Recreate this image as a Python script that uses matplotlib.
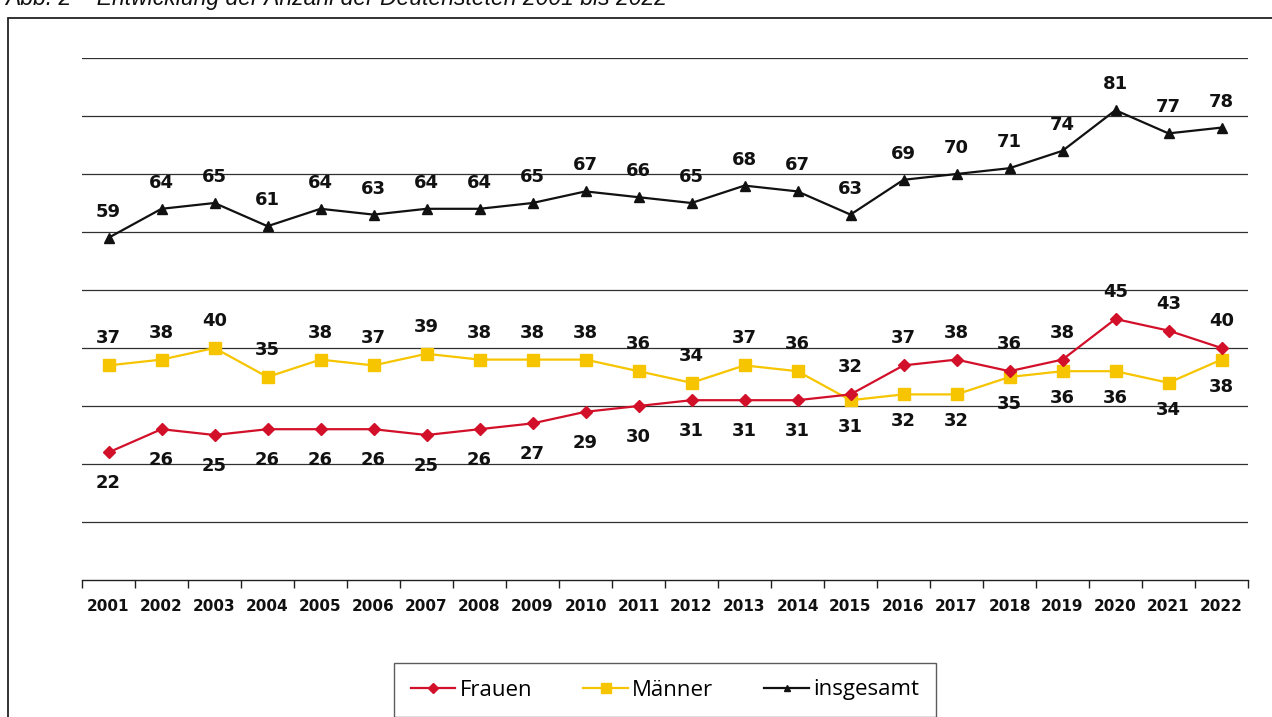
import matplotlib
matplotlib.use("Agg")
import matplotlib.pyplot as plt
from matplotlib.patches import Rectangle
from matplotlib.lines import Line2D

years = list(range(2001, 2023))
frauen = [22, 26, 25, 26, 26, 26, 25, 26, 27, 29, 30, 31, 31, 31, 32, 37, 38, 36, 38, 45, 43, 40]
maenner = [37, 38, 40, 35, 38, 37, 39, 38, 38, 38, 36, 34, 37, 36, 31, 32, 32, 35, 36, 36, 34, 38]
insgesamt = [59, 64, 65, 61, 64, 63, 64, 64, 65, 67, 66, 65, 68, 67, 63, 69, 70, 71, 74, 81, 77, 78]
title = "Abb. 2 – Entwicklung der Anzahl der Deutensteten 2001 bis 2022"

W, H = 1272, 717
fig = plt.figure(figsize=(W / 100, H / 100), dpi=100)
ax = fig.add_axes([82 / W, 1 - 580 / H, (1248 - 82) / W, (580 - 58) / H])

red = "#D2102A"
yellow = "#F6C500"
black = "#111111"

ax.plot(years, frauen, color=red, lw=1.6, marker="D", ms=6.5, label="Frauen", zorder=4)
ax.plot(years, maenner, color=yellow, lw=1.6, marker="s", ms=8.5, label="Männer", zorder=3)
ax.plot(years, insgesamt, color=black, lw=1.6, marker="^", ms=6.5, label="insgesamt", zorder=4)

ax.set_xlim(2000.5, 2022.5)
ax.set_ylim(0, 90)
for g in range(10, 91, 10):
    ax.axhline(g, color="#303030", lw=0.9, zorder=1)

for s in ["left", "right", "top"]:
    ax.spines[s].set_visible(False)
ax.spines["bottom"].set_color("#202020")
ax.spines["bottom"].set_linewidth(1.0)
ax.set_yticks([])
ax.set_xticks(years)
ax.set_xticklabels([str(y) for y in years], fontsize=11, fontweight="bold", color="#111111")
ax.tick_params(axis="x", which="major", length=0, pad=14)
ax.set_xticks([y + 0.5 for y in range(2000, 2023)], minor=True)
ax.tick_params(axis="x", which="minor", length=6, width=1, color="#202020", direction="out")

lab_kw = dict(textcoords="offset pixels", ha="center", va="center",
              fontsize=13, fontweight="bold", color="#111111", zorder=6)
for x, v in zip(years, insgesamt):
    ax.annotate(str(v), (x, v), xytext=(0, 26), **lab_kw)
for x, f, m in zip(years, frauen, maenner):
    if f > m:
        ax.annotate(str(f), (x, f), xytext=(0, 27), **lab_kw)
        ax.annotate(str(m), (x, m), xytext=(0, -27), **lab_kw)
    else:
        ax.annotate(str(m), (x, m), xytext=(0, 27), **lab_kw)
        ax.annotate(str(f), (x, f), xytext=(0, -31), **lab_kw)

# outer frame
fig.patches.append(Rectangle((8 / W, -0.2), 1.2, 1 - 18 / H + 0.2, transform=fig.transFigure,
                             fill=False, edgecolor="#222222", lw=1.3, zorder=0))

fig.text(5 / W, 1 - 5 / H, title, fontsize=16.5, style="italic", va="baseline",
         ha="left", family="Liberation Sans", color="#111111")

handles = [Line2D([0], [0], color=red, lw=1.6, marker="D", ms=5),
           Line2D([0], [0], color=yellow, lw=1.6, marker="s", ms=7),
           Line2D([0], [0], color=black, lw=1.6, marker="^", ms=5)]
leg = fig.legend(handles, ["Frauen", "Männer", "insgesamt"], loc="center",
                 bbox_to_anchor=(665 / W, 1 - 690 / H), ncol=3, frameon=True,
                 fancybox=False, edgecolor="#333333", handlelength=2.0,
                 handletextpad=0.2, columnspacing=2.3, borderpad=0.75,
                 prop={"family": "Open Sans", "size": 16})
leg.get_frame().set_linewidth(1.0)

fig.savefig("out.png", dpi=100)
